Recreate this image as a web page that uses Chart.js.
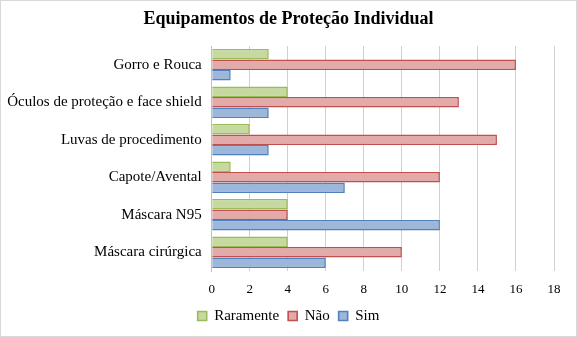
<!DOCTYPE html>
<html>
<head>
<meta charset="utf-8">
<script src="https://cdn.jsdelivr.net/npm/chart.js@4"></script>
<style>
  html, body { margin: 0; padding: 0; background: #fff; }
  #wrap { width: 577px; height: 337px; box-sizing: border-box; border: 1px solid #d9d9d9; position: relative; }
  canvas { display: block; }
</style>
</head>
<body>
<div id="wrap"><canvas id="c" width="575" height="335"></canvas></div>
<script>
const categories = [
  "Gorro e Rouca",
  "Óculos de proteção e face shield",
  "Luvas de procedimento",
  "Capote/Avental",
  "Máscara N95",
  "Máscara cirúrgica"
];
const raramente = [3, 4, 2, 1, 4, 4];
const nao = [16, 13, 15, 12, 4, 10];
const sim = [1, 3, 3, 7, 12, 6];
const xTicks = [0, 2, 4, 6, 8, 10, 12, 14, 16, 18];

const serif = "'Liberation Serif', 'Times New Roman', serif";

new Chart(document.getElementById("c"), {
  type: "bar",
  data: {
    labels: categories,
    datasets: [
      { label: "Raramente", data: raramente, backgroundColor: "#c6d9a1", borderColor: "#9bbb59", borderWidth: 1.6 },
      { label: "Não", data: nao, backgroundColor: "#e2abaa", borderColor: "#c0504d", borderWidth: 1.6 },
      { label: "Sim", data: sim, backgroundColor: "#9db7da", borderColor: "#4f81bd", borderWidth: 1.6 }
    ]
  },
  options: {
    indexAxis: "y",
    responsive: false,
    animation: false,
    categoryPercentage: 0.84,
    barPercentage: 1,
    layout: { padding: { left: 6, right: 6, top: 0, bottom: 2.5 } },
    plugins: {
      title: {
        display: true,
        text: "Equipamentos de Proteção Individual",
        color: "#000",
        font: { family: serif, size: 18, weight: "bold" },
        padding: { top: 8, bottom: 15.4 }
      },
      legend: {
        position: "bottom",
        labels: {
          color: "#000",
          font: { family: serif, size: 15 },
          boxWidth: 9,
          boxHeight: 9,
          padding: 9
        }
      },
      tooltip: { enabled: false }
    },
    scales: {
      x: {
        min: 0,
        max: 18,
        afterBuildTicks: axis => { axis.ticks = xTicks.map(v => ({ value: v })); },
        ticks: { color: "#000", font: { family: serif, size: 13 }, padding: 11 },
        grid: { color: "#d0d0d0", drawTicks: false },
        border: { display: false },
        afterFit: axis => { axis.height = 28.5; }
      },
      y: {
        ticks: { color: "#000", font: { family: serif, size: 15 }, padding: 10 },
        grid: { display: false, drawTicks: false },
        border: { color: "#bfbfbf" },
        afterFit: axis => { axis.width = 204.7; }
      },
      yRight: {
        position: "right",
        ticks: { display: false },
        grid: { display: false, drawTicks: false },
        border: { display: false },
        afterFit: axis => { axis.width = 16; }
      }
    }
  }
});
</script>
</body>
</html>
